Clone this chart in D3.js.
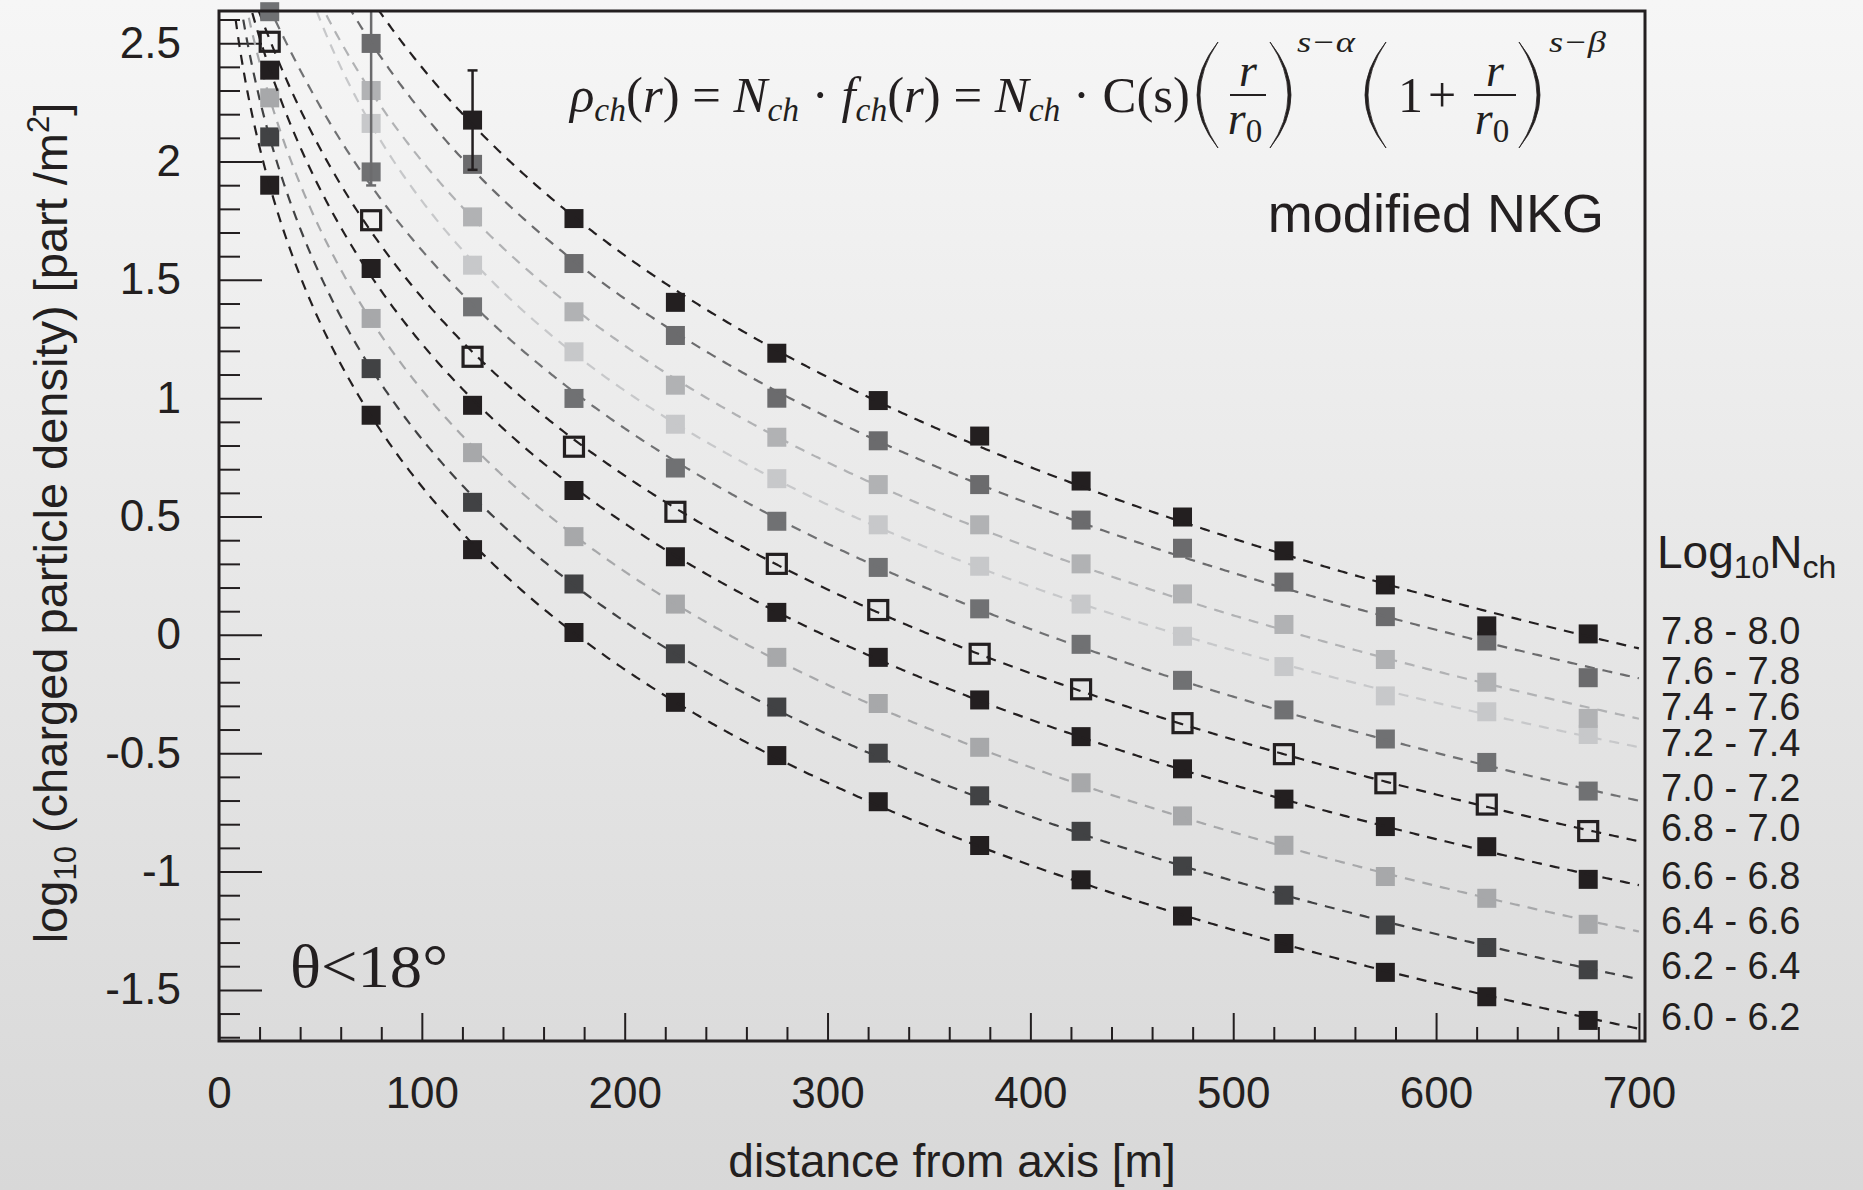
<!DOCTYPE html>
<html>
<head>
<meta charset="utf-8">
<script src="https://cdn.jsdelivr.net/npm/d3@7"></script>
<style>
  html, body { margin: 0; padding: 0; background: #e6e6e6; }
  svg { display: block; }
</style>
</head>
<body>
<svg id="chart" width="1863" height="1190"></svg>
<script>
// Lateral distribution of charged particles, theta < 18 deg, in bins of log10(Nch).
// log10 of the density at each core distance (null = outside the plotted range).
const distances = [25, 75, 125, 175, 225, 275, 325, 375, 425, 475, 525, 575, 625, 675];

const binLabels = ["7.8 - 8.0", "7.6 - 7.8", "7.4 - 7.6", "7.2 - 7.4", "7.0 - 7.2",
                   "6.8 - 7.0", "6.6 - 6.8", "6.4 - 6.6", "6.2 - 6.4", "6.0 - 6.2"];

const dens78 = [null, null, 2.175, 1.759, 1.405, 1.19, 0.99, 0.84, 0.65, 0.498, 0.355, 0.211, 0.038, 0.004];
const dens76 = [null, 2.499, 1.988, 1.569, 1.265, 1.0, 0.82, 0.635, 0.485, 0.366, 0.223, 0.077, -0.026, -0.181];
const dens74 = [null, 2.30, 1.766, 1.365, 1.055, 0.835, 0.635, 0.465, 0.30, 0.173, 0.044, -0.104, -0.20, -0.353];
const dens72 = [null, 2.161, 1.562, 1.196, 0.89, 0.66, 0.465, 0.29, 0.13, -0.006, -0.134, -0.258, -0.325, -0.421];
const dens70 = [2.633, 1.956, 1.386, 0.999, 0.705, 0.48, 0.285, 0.11, -0.04, -0.192, -0.317, -0.44, -0.539, -0.66];
const dens68 = [2.506, 1.752, 1.175, 0.795, 0.52, 0.30, 0.105, -0.08, -0.23, -0.373, -0.504, -0.627, -0.717, -0.829];
const dens66 = [2.386, 1.548, 0.97, 0.61, 0.33, 0.095, -0.095, -0.275, -0.43, -0.566, -0.694, -0.81, -0.895, -1.033];
const dens64 = [2.269, 1.337, 0.77, 0.415, 0.13, -0.095, -0.29, -0.475, -0.625, -0.765, -0.889, -1.021, -1.113, -1.223];
const dens62 = [2.104, 1.125, 0.56, 0.215, -0.08, -0.305, -0.50, -0.68, -0.83, -0.977, -1.10, -1.226, -1.321, -1.415];
const dens60 = [1.90, 0.928, 0.36, 0.01, -0.285, -0.51, -0.705, -0.89, -1.035, -1.188, -1.304, -1.426, -1.529, -1.629];

const seriesValues = [dens78, dens76, dens74, dens72, dens70, dens68, dens66, dens64, dens62, dens60];

// Statistical error bars shown on two points: [bin, distance, half-width]
const errorBins = ["7.6 - 7.8", "7.8 - 8.0"];
const errorDistances = [75, 125];
const errorHalfWidths = [0.6, 0.21];

// Axis ticks
const xTickValues = [0, 100, 200, 300, 400, 500, 600, 700];
const yTickValues = [-1.5, -1, -0.5, 0, 0.5, 1, 1.5, 2, 2.5];

// Marker styles per bin (same order as binLabels)
const markerFill = ["#231f20", "#6b6b6d", "#b1b2b4", "#c7c8ca", "#707173",
                    "none", "#231f20", "#a7a8aa", "#414244", "#231f20"];
const lineColor  = ["#231f20", "#6b6b6d", "#b1b2b4", "#c7c8ca", "#707173",
                    "#231f20", "#231f20", "#a7a8aa", "#414244", "#231f20"];

// ---------------------------------------------------------------------------
const W = 1863, H = 1190;
const plot = { left: 219, right: 1645, top: 11, bottom: 1041 };
const INK = "#231f20";
const SANS = "'Liberation Sans', Arial, Helvetica, sans-serif";
const SERIF = "'Liberation Serif', 'Times New Roman', 'DejaVu Serif', serif";

const svg = d3.select("#chart");
const defs = svg.append("defs");

const grad = defs.append("linearGradient").attr("id", "bg")
  .attr("x1", 0).attr("y1", 0).attr("x2", 0).attr("y2", 1);
grad.append("stop").attr("offset", "0%").attr("stop-color", "#f6f6f6");
grad.append("stop").attr("offset", "100%").attr("stop-color", "#d8d8d8");
svg.append("rect").attr("width", W).attr("height", H).attr("fill", "url(#bg)");

defs.append("clipPath").attr("id", "plotClip").append("rect")
  .attr("x", plot.left).attr("y", plot.top)
  .attr("width", plot.right - plot.left).attr("height", plot.bottom - plot.top);

const x = d3.scaleLinear().domain([0, 703]).range([plot.left, plot.right]);
const y = d3.scaleLinear().domain([-1.716, 2.636]).range([plot.bottom, plot.top]);

// ---- axes -----------------------------------------------------------------
const xMinor = d3.range(0, 701, 20).filter(v => v % 100 !== 0);
const yMinor = d3.range(-17, 27).map(v => v / 10).filter(v => Math.abs(v * 2 - Math.round(v * 2)) > 1e-6);

function styleAxis(g) {
  g.select(".domain").remove();
  g.selectAll(".tick line").attr("stroke", INK).attr("stroke-width", 2);
  g.selectAll(".tick text").attr("fill", INK).attr("font-family", SANS).attr("font-size", 44);
}

svg.append("g").attr("transform", `translate(0,${plot.bottom})`)
  .call(d3.axisBottom(x).tickValues(xMinor).tickSize(-14).tickFormat(""))
  .call(styleAxis);
svg.append("g").attr("transform", `translate(0,${plot.bottom})`)
  .call(d3.axisBottom(x).tickValues(xTickValues).tickSize(-28).tickPadding(36).tickFormat(d => String(d)))
  .call(styleAxis);

svg.append("g").attr("transform", `translate(${plot.left},0)`)
  .call(d3.axisLeft(y).tickValues(yMinor).tickSize(-21).tickFormat(""))
  .call(styleAxis);
svg.append("g").attr("transform", `translate(${plot.left},0)`)
  .call(d3.axisLeft(y).tickValues(yTickValues).tickSize(-43).tickPadding(38).tickFormat(d => String(d)))
  .call(styleAxis);

// ---- fitted lateral distribution (modified NKG shape) ---------------------
const R0 = 30;
function basis(r) { return [1, Math.log10(r / R0), Math.log10(1 + r / R0)]; }
function fitSeries(vals) {
  const A = [[0, 0, 0], [0, 0, 0], [0, 0, 0]], b = [0, 0, 0];
  distances.forEach((r, i) => {
    if (vals[i] == null) return;
    const f = basis(r);
    for (let p = 0; p < 3; p++) {
      b[p] += f[p] * vals[i];
      for (let q = 0; q < 3; q++) A[p][q] += f[p] * f[q];
    }
  });
  // Gaussian elimination
  const M = A.map((row, i) => row.concat([b[i]]));
  for (let c = 0; c < 3; c++) {
    let piv = c;
    for (let rr = c + 1; rr < 3; rr++) if (Math.abs(M[rr][c]) > Math.abs(M[piv][c])) piv = rr;
    [M[c], M[piv]] = [M[piv], M[c]];
    for (let rr = 0; rr < 3; rr++) {
      if (rr === c) continue;
      const k = M[rr][c] / M[c][c];
      for (let cc = c; cc < 4; cc++) M[rr][cc] -= k * M[c][cc];
    }
  }
  const coef = M.map((row, i) => row[3] / row[i]);
  return r => basis(r).reduce((s, v, i) => s + v * coef[i], 0);
}

const rSamples = d3.range(3, 700.01, 1);
const line = d3.line().x(d => x(d[0])).y(d => y(d[1]));
const series = binLabels.map((label, i) => ({
  label, i,
  pts: distances.map((r, j) => [r, seriesValues[i][j]]).filter(d => d[1] != null),
  fit: fitSeries(seriesValues[i])
}));

const MS = 19;
// draw lowest bin first so higher bins sit on top
series.slice().reverse().forEach(s => {
  const g = svg.append("g");
  // error bars
  errorBins.forEach((b, k) => {
    if (b !== s.label) return;
    const v = seriesValues[s.i][distances.indexOf(errorDistances[k])];
    const eg = g.append("g").attr("clip-path", "url(#plotClip)")
      .attr("stroke", lineColor[s.i]).attr("stroke-width", 2.5);
    const cx = x(errorDistances[k]);
    const y1 = y(v + errorHalfWidths[k]), y2 = y(v - errorHalfWidths[k]);
    eg.append("line").attr("x1", cx).attr("x2", cx).attr("y1", y1).attr("y2", y2);
    eg.append("line").attr("x1", cx - 5).attr("x2", cx + 5).attr("y1", y1).attr("y2", y1);
    eg.append("line").attr("x1", cx - 5).attr("x2", cx + 5).attr("y1", y2).attr("y2", y2);
  });
  // markers
  const open = markerFill[s.i] === "none";
  g.selectAll("rect.m").data(s.pts).join("rect").attr("class", "m")
    .attr("x", d => x(d[0]) - (open ? 9.5 : MS / 2))
    .attr("y", d => y(d[1]) - (open ? 9.5 : MS / 2))
    .attr("width", open ? 19 : MS).attr("height", open ? 19 : MS)
    .attr("fill", open ? "none" : markerFill[s.i])
    .attr("stroke", open ? INK : "none")
    .attr("stroke-width", open ? 3.2 : 0);
  // fitted curve
  g.append("path").attr("clip-path", "url(#plotClip)")
    .datum(rSamples.map(r => [r, s.fit(r)]))
    .attr("d", line).attr("fill", "none")
    .attr("stroke", lineColor[s.i]).attr("stroke-width", 2.2)
    .attr("stroke-dasharray", "10,8");
});

// frame
svg.append("rect").attr("x", plot.left).attr("y", plot.top)
  .attr("width", plot.right - plot.left).attr("height", plot.bottom - plot.top)
  .attr("fill", "none").attr("stroke", INK).attr("stroke-width", 3);

// ---- axis titles -----------------------------------------------------------
svg.append("text").attr("x", 952).attr("y", 1177).attr("text-anchor", "middle")
  .attr("font-family", SANS).attr("font-size", 46).attr("fill", INK)
  .text("distance from axis [m]");

const yt = svg.append("text").attr("transform", "translate(67,523) rotate(-90)")
  .attr("text-anchor", "middle").attr("font-family", SANS).attr("font-size", 47).attr("fill", INK);
yt.append("tspan").text("log");
yt.append("tspan").attr("font-size", 31).attr("dy", 9).text("10");
yt.append("tspan").attr("dy", -9).text(" (charged particle density) [part /m");
yt.append("tspan").attr("font-size", 31).attr("dy", -18).text("2");
yt.append("tspan").attr("dy", 18).text("]");

// ---- legend (bin labels placed at the end of each curve) -------------------
const lt = svg.append("text").attr("x", 1657).attr("y", 568)
  .attr("font-family", SANS).attr("font-size", 46).attr("fill", INK);
lt.append("tspan").text("Log");
lt.append("tspan").attr("font-size", 32).attr("dy", 10).text("10");
lt.append("tspan").attr("dy", -10).text("N");
lt.append("tspan").attr("font-size", 32).attr("dy", 10).text("ch");

const MIN_GAP = 36;
const labelPos = series.map(s => y(s.pts[s.pts.length - 1][1]) - 4);
// simple relaxation to keep labels from overlapping
for (let it = 0; it < 60; it++) {
  for (let k = 1; k < labelPos.length; k++) {
    const gap = labelPos[k] - labelPos[k - 1];
    if (gap < MIN_GAP) {
      const push = (MIN_GAP - gap) / 2;
      labelPos[k] += push; labelPos[k - 1] -= push;
    }
  }
}
svg.append("g").selectAll("text").data(series).join("text")
  .attr("x", 1661).attr("y", (d, k) => labelPos[k]).attr("dy", "0.36em")
  .attr("font-family", SANS).attr("font-size", 38).attr("fill", INK)
  .text(d => d.label);

// ---- annotations -----------------------------------------------------------
svg.append("text").attr("x", 1604).attr("y", 232).attr("text-anchor", "end")
  .attr("font-family", SANS).attr("font-size", 54).attr("fill", INK)
  .text("modified NKG");

svg.append("text").attr("x", 290).attr("y", 987)
  .attr("font-family", SERIF).attr("font-size", 62).attr("fill", INK)
  .attr("textLength", 158).attr("lengthAdjust", "spacingAndGlyphs")
  .text("\u03b8<18\u00b0");

// ---- formula ----------------------------------------------------------------
const F = svg.append("g").attr("fill", INK).attr("font-family", SERIF);
const base = 112;
const t1 = F.append("text").attr("x", 570).attr("y", base).attr("font-size", 50)
  .attr("textLength", 620).attr("lengthAdjust", "spacingAndGlyphs");
function sub(t, s) { t.append("tspan").attr("font-style", "italic").attr("font-size", 33).attr("dy", 9).text(s); }
t1.append("tspan").attr("font-style", "italic").text("\u03c1");
sub(t1, "ch");
t1.append("tspan").attr("dy", -9).text("(");
t1.append("tspan").attr("font-style", "italic").text("r");
t1.append("tspan").text(") = ");
t1.append("tspan").attr("font-style", "italic").text("N");
sub(t1, "ch");
t1.append("tspan").attr("dy", -9).text(" \u00b7 ");
t1.append("tspan").attr("font-style", "italic").text("f");
sub(t1, "ch");
t1.append("tspan").attr("dy", -9).text("(");
t1.append("tspan").attr("font-style", "italic").text("r");
t1.append("tspan").text(") = ");
t1.append("tspan").attr("font-style", "italic").text("N");
sub(t1, "ch");
t1.append("tspan").attr("dy", -9).text(" \u00b7 C(s)");

function paren(xTip, xBulge, top, bottom, left) {
  const mid = (top + bottom) / 2;
  const c1 = 2 * xBulge - xTip;
  const c2 = c1 + (left ? 6 : -6);
  F.append("path")
    .attr("d", `M${xTip},${top} Q${c1},${mid} ${xTip},${bottom} Q${c2},${mid} ${xTip},${top} Z`)
    .attr("fill", INK).attr("stroke", INK).attr("stroke-width", 0.8);
}
function frac(cx, halfW) {
  F.append("text").attr("x", cx).attr("y", 86).attr("text-anchor", "middle")
    .attr("font-size", 46).attr("font-style", "italic").text("r");
  F.append("line").attr("x1", cx - halfW).attr("x2", cx + halfW).attr("y1", 95).attr("y2", 95)
    .attr("stroke", INK).attr("stroke-width", 2);
  const d = F.append("text").attr("x", cx - 3).attr("y", 134).attr("text-anchor", "middle")
    .attr("font-size", 46);
  d.append("tspan").attr("font-style", "italic").text("r");
  d.append("tspan").attr("font-size", 33).attr("dy", 8).text("0");
}
function sup(x0, len, s) {
  F.append("text").attr("x", x0).attr("y", 52).attr("font-size", 30).attr("font-style", "italic")
    .attr("textLength", len).attr("lengthAdjust", "spacingAndGlyphs").text(s);
}
paren(1218, 1197, 42, 148, true);
frac(1248, 18);
paren(1270, 1291, 42, 148, false);
sup(1297, 58, "s\u2212\u03b1");
paren(1386, 1365, 42, 148, true);
F.append("text").attr("x", 1398).attr("y", base).attr("font-size", 50).text("1");
F.append("text").attr("x", 1428).attr("y", base).attr("font-size", 50).text("+");
frac(1495, 21);
paren(1519, 1540, 42, 148, false);
sup(1549, 57, "s\u2212\u03b2");
</script>
</body>
</html>
